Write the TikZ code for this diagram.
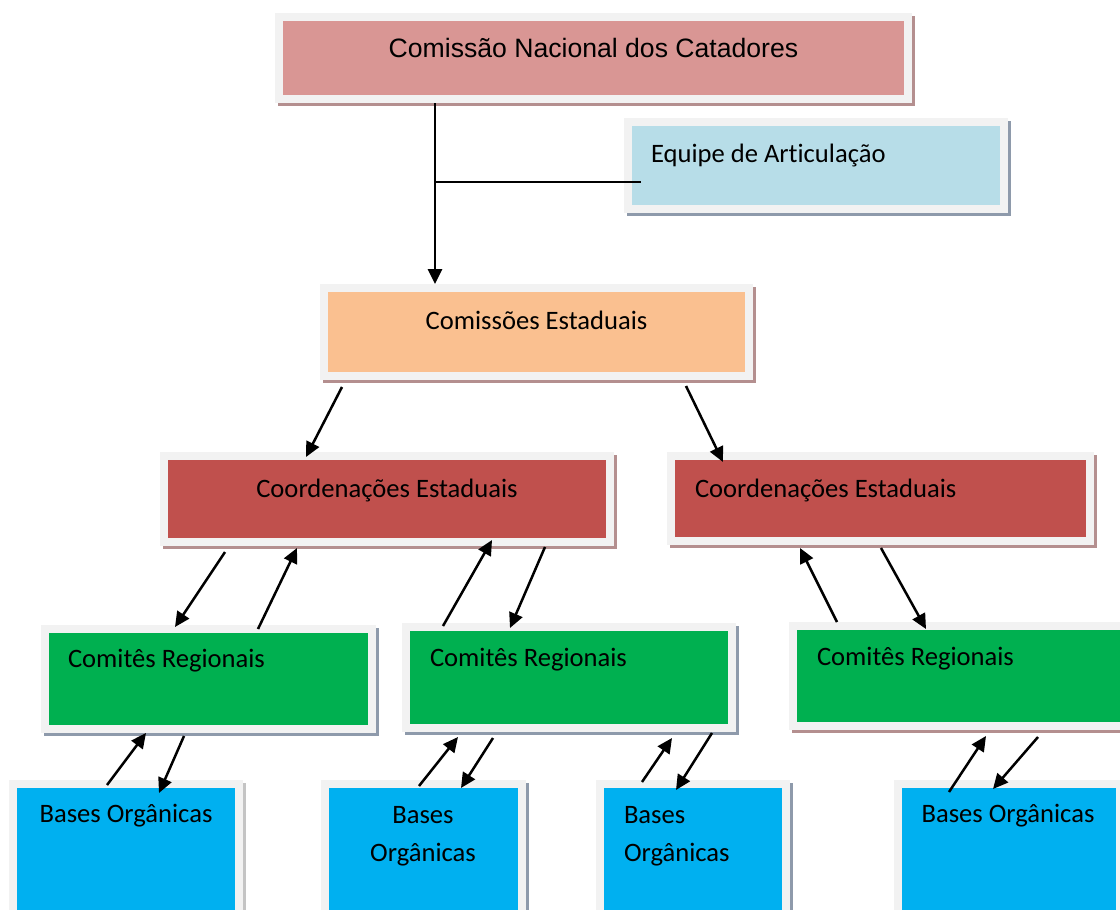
\documentclass[tikz,border=0pt]{standalone}
\usepackage{fontspec}
\setmainfont{Carlito}[Ligatures=NoCommon]
\newfontfamily\arialfont{Liberation Sans}
\usetikzlibrary{arrows.meta,calc}
\definecolor{framegray}{HTML}{F2F2F2}
\definecolor{cpink}{HTML}{D99694}
\definecolor{cblue}{HTML}{B7DDE8}
\definecolor{corange}{HTML}{FAC090}
\definecolor{cred}{HTML}{C0504D}
\definecolor{cgreen}{HTML}{00B050}
\definecolor{ccyan}{HTML}{00B0F0}
\definecolor{shmauve}{HTML}{B48F8F}
\definecolor{shblue}{HTML}{8E9AAB}
\definecolor{shgray}{HTML}{C4C4C4}
\tikzset{
  arr/.style={line width=2.5pt, -{Triangle[length=15pt,width=14pt]}},
  lbl/.style={inner sep=0pt, outer sep=0pt, font=\fontsize{26.6}{32}\selectfont},
  fillbox/.style={inner sep=0pt, outer sep=0pt, anchor=north west},
}
\newcommand\orgbox[7]{%
  \fill[#7] ({#2-5},{#3-5}) rectangle ({#4+11},{#5+11});
  \fill[framegray] ({#2-8},{#3-8}) rectangle ({#4+8},{#5+8});
  \node[fillbox, fill=#6, minimum width={(#4-#2)*1pt}, minimum height={(#5-#3)*1pt}] (#1) at (#2,#3) {};
}
\begin{document}
\begin{tikzpicture}[x=1pt,y=-1pt]
\useasboundingbox[fill=white] (0,0) rectangle (1120,910);
% boxes
\orgbox{n1}{283}{21}{904}{95}{cpink}{shmauve}
\orgbox{n2}{632}{126}{1000}{205}{cblue}{shblue}
\orgbox{n3}{328}{292}{745}{372}{corange}{shmauve}
\orgbox{n4a}{168}{460}{606}{538}{cred}{shmauve}
\orgbox{n4b}{675}{460}{1086}{537}{cred}{shmauve}
\orgbox{n5a}{49}{633}{368}{725}{cgreen}{shblue}
\orgbox{n5b}{410}{631}{728}{724}{cgreen}{shblue}
\orgbox{n5c}{797}{630}{1135}{722}{cgreen}{shmauve}
\orgbox{n6a}{17}{788}{235}{925}{ccyan}{shgray}
\orgbox{n6b}{329}{788}{518}{925}{ccyan}{shblue}
\orgbox{n6c}{604}{788}{782}{925}{ccyan}{shblue}
\orgbox{n6d}{902}{788}{1116}{925}{ccyan}{shgray}
% texts
\node[lbl, anchor=base, font=\arialfont\fontsize{26.6}{32}\selectfont] (t1) at (593.5,57) {Comissão Nacional dos Catadores};
\node[lbl, anchor=base west] (t2) at (651,162) {Equipe de Articulação};
\node[lbl, anchor=base] (t3) at (536.5,329) {Comissões Estaduais};
\node[lbl, anchor=base] (t4a) at (387,497) {Coordenações Estaduais};
\node[lbl, anchor=base west] (t4b) at (695,497) {Coordenações Estaduais};
\node[lbl, anchor=base west] (t5a) at (68,667) {Comitês Regionais};
\node[lbl, anchor=base west] (t5b) at (430,666) {Comitês Regionais};
\node[lbl, anchor=base west] (t5c) at (817,665) {Comitês Regionais};
\node[lbl, anchor=base] (t6a) at (126,822) {Bases Orgânicas};
\node[lbl, anchor=base] (t6b1) at (423,823) {Bases};
\node[lbl, anchor=base] (t6b2) at (423,861) {Orgânicas};
\node[lbl, anchor=base west] (t6c1) at (624,823) {Bases};
\node[lbl, anchor=base west] (t6c2) at (624,861) {Orgânicas};
\node[lbl, anchor=base] (t6d) at (1008,822) {Bases Orgânicas};
% connectors
\coordinate (j) at ([shift={(152,87)}]n1.south west);
\draw[line width=2.8pt, -{Triangle[length=15pt,width=14pt]}] ([shift={(152,8)}]n1.south west) -- ([shift={(107,-8)}]n3.north west);
\draw[line width=1.6pt] (j) -- ([shift={(9,56)}]n2.north west);
\draw[arr] ([shift={(14,15)}]n3.south west) -- ([shift={(138,-3)}]n4a.north west);
\draw[arr] ([shift={(358,14)}]n3.south west) -- ([shift={(48,2)}]n4b.north west);
\draw[arr] ([shift={(57,14)}]n4a.south west) -- ([shift={(126,-6)}]n5a.north west);
\draw[arr] ([shift={(209,-4)}]n5a.north west) -- ([shift={(129,10)}]n4a.south west);
\draw[arr] ([shift={(33,-5)}]n5b.north west) -- ([shift={(324,2)}]n4a.south west);
\draw[arr] ([shift={(377,9)}]n4a.south west) -- ([shift={(100,-3)}]n5b.north west);
\draw[arr] ([shift={(40,-8)}]n5c.north west) -- ([shift={(125,11)}]n4b.south west);
\draw[arr] ([shift={(206,11)}]n4b.south west) -- ([shift={(129,-1)}]n5c.north west);
\draw[arr] ([shift={(90,-3)}]n6a.north west) -- ([shift={(97,8)}]n5a.south west);
\draw[arr] ([shift={(135,11)}]n5a.south west) -- ([shift={(142,5)}]n6a.north west);
\draw[arr] ([shift={(90,-2)}]n6b.north west) -- ([shift={(48,13)}]n5b.south west);
\draw[arr] ([shift={(83,14)}]n5b.south west) -- ([shift={(132,0)}]n6b.north west);
\draw[arr] ([shift={(38,-6)}]n6c.north west) -- ([shift={(262,14)}]n5b.south west);
\draw[arr] ([shift={(302,9)}]n5b.south west) -- ([shift={(72,2)}]n6c.north west);
\draw[arr] ([shift={(47,4)}]n6d.north west) -- ([shift={(189,14)}]n5c.south west);
\draw[arr] ([shift={(241,15)}]n5c.south west) -- ([shift={(91,1)}]n6d.north west);
\end{tikzpicture}
\end{document}
